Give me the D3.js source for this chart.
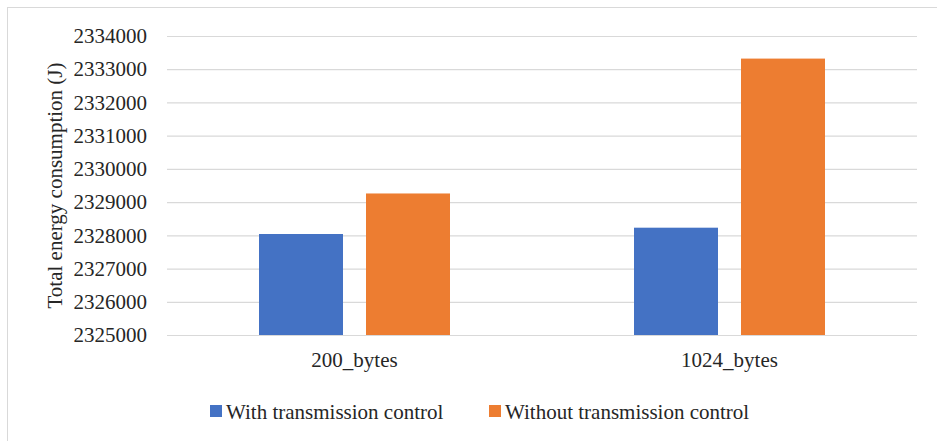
<!DOCTYPE html>
<html>
<head>
<meta charset="utf-8">
<script src="https://cdn.jsdelivr.net/npm/d3@7"></script>
<style>
  body { margin: 0; background: #fff; }
  svg text { font-family: "Liberation Serif", "Times New Roman", Tinos, "DejaVu Serif", serif !important; fill: #262626; }
</style>
</head>
<body>
<div id="chart"></div>
<script>
// data
const categories = ["200_bytes", "1024_bytes"];
const seriesNames = ["With transmission control", "Without transmission control"];
const withControl = [2328040, 2328230];
const withoutControl = [2329260, 2333320];
const yTicks = [2325000, 2326000, 2327000, 2328000, 2329000, 2330000, 2331000, 2332000, 2333000, 2334000];
const colors = ["#4472C4", "#ED7D31"];

const W = 937, H = 441;
const margin = {top: 36, right: 20, bottom: 106, left: 167};
const width = 917 - margin.left;
const height = 335 - margin.top;

const svg = d3.select("#chart")
    .append("svg")
    .attr("width", W)
    .attr("height", H);

// chart border
svg.append("rect")
    .attr("x", 7.5).attr("y", 7.5)
    .attr("width", W).attr("height", H)
    .attr("fill", "none")
    .attr("stroke", "#d9d9d9")
    .attr("stroke-width", 1);

const g = svg.append("g")
    .attr("transform", `translate(${margin.left}, ${margin.top})`);

const y = d3.scaleLinear()
    .domain([2325000, 2334000])
    .range([height, 0]);

const x0 = d3.scaleBand()
    .domain(categories)
    .range([0, width]);

const x1 = d3.scaleBand()
    .domain(seriesNames)
    .range([92, x0.bandwidth() - 92])
    .paddingInner(0.215);

// gridlines + y labels
g.append("g")
    .call(d3.axisLeft(y).tickValues(yTicks).tickFormat(d3.format("d")).tickSize(-width).tickPadding(20))
    .call(a => a.select(".domain").remove())
    .call(a => a.selectAll("line").attr("stroke", "#d9d9d9").attr("stroke-width", 1.2))
    .call(a => a.selectAll("text").style("font-size", "21px"));

// bars
const rows = categories.map((c, i) => ({cat: c, vals: [withControl[i], withoutControl[i]]}));
g.selectAll(".grp")
    .data(rows)
    .join("g")
    .attr("transform", d => `translate(${x0(d.cat)},0)`)
    .selectAll("rect")
    .data(d => d.vals.map((v, j) => ({name: seriesNames[j], v: v, j: j})))
    .join("rect")
    .attr("x", d => x1(d.name))
    .attr("width", x1.bandwidth())
    .attr("y", d => y(d.v))
    .attr("height", d => height - y(d.v))
    .attr("fill", d => colors[d.j]);

// x labels
g.append("g")
    .attr("transform", `translate(0, ${height})`)
    .call(d3.axisBottom(x0).tickSize(0).tickPadding(17))
    .call(a => a.select(".domain").remove())
    .call(a => a.selectAll("text").style("font-size", "21px"));

// y title
svg.append("text")
    .attr("transform", `translate(62, ${margin.top + height / 2}) rotate(-90)`)
    .attr("text-anchor", "middle")
    .style("font-size", "21px")
    .text("Total energy consumption (J)");

// legend
const legendX = [210, 489];
const legend = svg.selectAll(".leg")
    .data(seriesNames)
    .join("g")
    .attr("transform", (d, i) => `translate(${legendX[i]}, 405)`);
legend.append("rect")
    .attr("width", 12).attr("height", 12)
    .attr("fill", (d, i) => colors[i]);
legend.append("text")
    .attr("x", 16).attr("y", 14)
    .style("font-size", "21px")
    .text(d => d);
</script>
</body>
</html>
